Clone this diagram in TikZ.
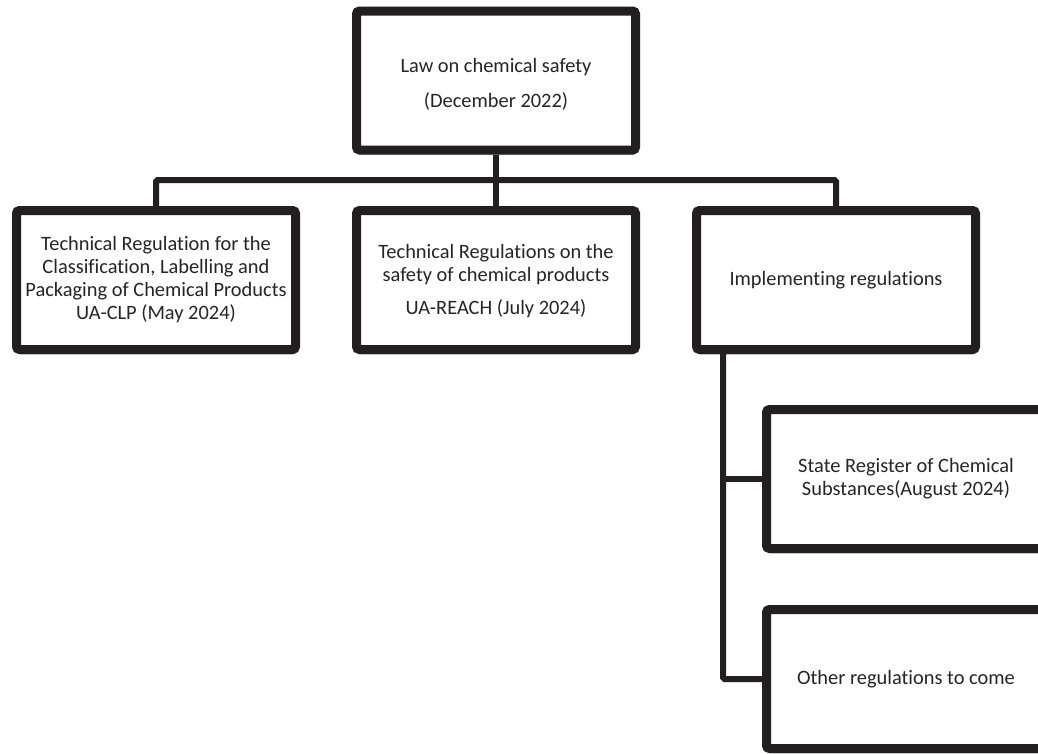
\documentclass[tikz,border=0pt]{standalone}
\usepackage{fontspec}
\setmainfont[Ligatures=NoCommon]{Carlito}
\usetikzlibrary{shadows}
\definecolor{ink}{RGB}{35,31,32}
\definecolor{txt}{RGB}{40,36,37}
\tikzset{
  box/.style={draw=ink, line width=9pt, fill=white, rounded corners=3pt,
    minimum width=279pt, minimum height=139pt, align=center, inner sep=0pt,
    text=txt, font=\fontsize{20.4}{23}\selectfont,
    drop shadow={shadow xshift=1pt, shadow yshift=-5pt, opacity=0.22, fill=black}},
  link/.style={draw=ink, line width=6pt, rounded corners=1.5pt}
}
\begin{document}
\begin{tikzpicture}[x=1pt,y=-1pt]
\useasboundingbox (0,0) rectangle (1038,753);
\fill[white] (0,0) rectangle (1038,753);
\node[box] (law) at (496,80.5) {\rule{0pt}{21pt}Law on chemical safety\\[12pt](December 2022)};
\node[box] (clp) at (156,280) {Technical Regulation for the\\Classification, Labelling and\\Packaging of Chemical Products\\UA-CLP (May 2024)};
\node[box] (reach) at (496,280) {\rule{0pt}{17pt}Technical Regulations on the\\safety of chemical products\\[10pt]UA-REACH (July 2024)};
\node[box] (impl) at (836,280) {Implementing regulations};
\node[box] (state) at (906,479) {State Register of Chemical\\Substances(August 2024)};
\node[box] (other) at (906,679) {Other regulations to come};
\coordinate (bus) at (496,180);
\coordinate (trunk) at (723,354);
\draw[link] (law.south) -- (reach.north);
\draw[link] (clp.north) |- (bus) -| (impl.north);
\draw[link] (impl.south -| trunk) |- (other.west);
\draw[link] (trunk |- state.west) -- (state.west);
\end{tikzpicture}
\end{document}
